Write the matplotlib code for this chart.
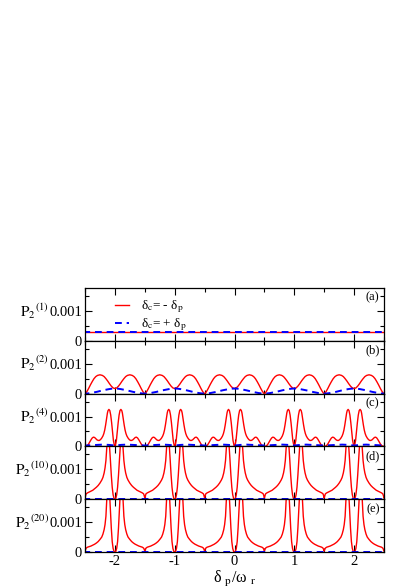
import numpy as np
import matplotlib
matplotlib.use("Agg")
import matplotlib.pyplot as plt
import matplotlib.transforms as mtransforms
from matplotlib.ticker import MultipleLocator

plt.rcParams['font.family'] = ['Liberation Serif', 'DejaVu Serif']
plt.rcParams['mathtext.fontset'] = 'stix'

# half-period samples: u = distance from nearest integer of delta_p/omega_r (0 .. 0.5)
# panel (a): flat
a_u = [0.0, 0.5]
a_red = [0.00029, 0.00029]
a_blue = [0.00029, 0.00029]

# panel (b)
b_u = [0.0, 0.03, 0.06, 0.09, 0.12, 0.15, 0.18, 0.21, 0.25, 0.29, 0.32, 0.35, 0.38,
       0.41, 0.44, 0.465, 0.485, 0.5]
b_red = [0.00017, 0.00019, 0.00025, 0.00033, 0.00042, 0.0005, 0.00057, 0.00061, 0.00063,
         0.00061, 0.00057, 0.0005, 0.0004, 0.00029, 0.00017, 0.00008, 0.00002, 0.0]
b_u2 = [0.0, 0.05, 0.1, 0.15, 0.2, 0.25, 0.3, 0.35, 0.4, 0.45, 0.5]
b_blue = [0.00017, 0.000165, 0.00015, 0.00013, 0.00011, 0.000085, 0.00006, 0.00004,
          0.00002, 0.000006, 0.0]

# panel (c)
c_u = [0.0, 0.01, 0.025, 0.04, 0.055, 0.07, 0.085, 0.1, 0.115, 0.125, 0.14, 0.155, 0.17,
       0.185, 0.2, 0.22, 0.24, 0.26, 0.28, 0.3, 0.32, 0.34, 0.36, 0.38, 0.4, 0.42,
       0.44, 0.46, 0.48, 0.5]
c_red = [0.0, 0.00005, 0.0002, 0.0005, 0.0008, 0.00105, 0.0012, 0.00124, 0.0012, 0.00112,
         0.00092, 0.00072, 0.00055, 0.00043, 0.00035, 0.00028, 0.00023, 0.0002, 0.0002,
         0.00022, 0.00026, 0.0003, 0.00031, 0.00028, 0.00022, 0.00015, 0.00008, 0.00003,
         0.000005, 0.0]
c_u2 = [0.0, 0.1, 0.2, 0.3, 0.4, 0.5]
c_blue = [0.00003, 0.00005, 0.00006, 0.00005, 0.00004, 0.00003]

# panel (d)
d_u = [0.0, 0.015, 0.03, 0.045, 0.06, 0.075, 0.09, 0.1, 0.11, 0.12, 0.13, 0.14, 0.15,
       0.165, 0.18, 0.2, 0.22, 0.25, 0.28, 0.31, 0.34, 0.37, 0.4, 0.43, 0.46, 0.48,
       0.49, 0.5]
d_red = [0.0, 0.00003, 0.00015, 0.0004, 0.0008, 0.0013, 0.0018, 0.0021, 0.0023, 0.0022,
         0.0019, 0.0016, 0.0013, 0.00105, 0.00088, 0.00073, 0.00064, 0.00054, 0.00046,
         0.0004, 0.00035, 0.0003, 0.00027, 0.00024, 0.00021, 0.00018, 0.00012, 0.00004]
d_u2 = [0.0, 0.5]
d_blue = [0.00001, 0.00001]

# panel (e)
e_u = [0.0, 0.015, 0.03, 0.045, 0.06, 0.075, 0.09, 0.1, 0.11, 0.12, 0.13, 0.14, 0.15,
       0.165, 0.18, 0.2, 0.22, 0.25, 0.28, 0.31, 0.34, 0.37, 0.4, 0.43, 0.46, 0.48,
       0.49, 0.5]
e_red = [0.0, 0.00002, 0.00012, 0.00035, 0.0008, 0.0014, 0.002, 0.0024, 0.0026, 0.0024,
         0.002, 0.0016, 0.0012, 0.00092, 0.00075, 0.0006, 0.0005, 0.00042, 0.00035,
         0.0003, 0.00026, 0.00023, 0.0002, 0.00018, 0.00016, 0.00013, 0.00009, 0.00003]
e_u2 = [0.0, 0.5]
e_blue = [0.00001, 0.00001]

panels = [
    ('(a)', '(1)', a_u, a_red, a_u, a_blue),
    ('(b)', '(2)', b_u, b_red, b_u2, b_blue),
    ('(c)', '(4)', c_u, c_red, c_u2, c_blue),
    ('(d)', '(10)', d_u, d_red, d_u2, d_blue),
    ('(e)', '(20)', e_u, e_red, e_u2, e_blue),
]
x_ticks = [-2, -1, 0, 1, 2]


def periodic(u, v, ks=range(-3, 4)):
    u = np.asarray(u)
    v = np.asarray(v)
    xs = np.concatenate([-u[::-1], u[1:]])
    ys = np.concatenate([v[::-1], v[1:]])
    X = np.concatenate([k + xs for k in ks])
    Y = np.concatenate([ys for k in ks])
    return X, Y


W, H = 415, 588
fig = plt.figure(figsize=(W / 100, H / 100), dpi=100)
left, right = 85 / W, 384 / W
top_px, bot_px = 288, 552
ph = (bot_px - top_px) / 5

for i, (tag, sup, ru, rv, bu, bv) in enumerate(panels):
    y0 = 1 - (top_px + (i + 1) * ph) / H
    ax = fig.add_axes([left, y0, right - left, ph / H])
    xr, yr = periodic(ru, rv)
    xb, yb = periodic(bu, bv)
    ax.plot(xr, yr, color='red', lw=1.0, label=r'δ$_\mathrm{c}$= - δ$_\mathrm{p}$')
    ax.plot(xb, yb, color='blue', lw=1.4, ls=(0, (3.5, 2.5)), label=r'δ$_\mathrm{c}$= + δ$_\mathrm{p}$')
    ax.set_xlim(-2.5, 2.5)
    ax.set_ylim(0, 0.00177)
    ax.set_xticks(x_ticks)
    ax.xaxis.set_minor_locator(MultipleLocator(0.5))
    ax.set_yticks([0, 0.001])
    ax.set_yticklabels(['0', '0.001'])
    ax.yaxis.set_minor_locator(MultipleLocator(0.0005))
    ax.tick_params(which='both', direction='in', top=True, right=True, labelsize=10.5, pad=2)
    ax.tick_params(which='major', length=5, width=0.8)
    ax.tick_params(which='minor', length=3, width=0.8)
    for s in ax.spines.values():
        s.set_linewidth(0.9)
    if i < 4:
        ax.tick_params(labelbottom=False)
    else:
        ax.set_xticklabels([str(t) for t in x_ticks])
        ax.set_xlabel(r'δ $_\mathrm{p}$/ω $_\mathrm{r}$', fontsize=11.5, labelpad=1)
    ax.text(0.985, 0.93, tag, transform=ax.transAxes, ha='right', va='top', fontsize=9)
    trans = mtransforms.blended_transform_factory(ax.transAxes, ax.transData)
    ax.text(-0.119, 0.001, r'$\mathrm{P}_2{}^{' + sup + '}$', transform=trans,
            ha='right', va='center', fontsize=11)
    if i == 0:
        ax.legend(loc='upper left', bbox_to_anchor=(0.06, 1.03), frameon=False,
                  fontsize=9.5, handlelength=1.1, handletextpad=0.9, labelspacing=0.12)

fig.savefig('out.png', dpi=100)
